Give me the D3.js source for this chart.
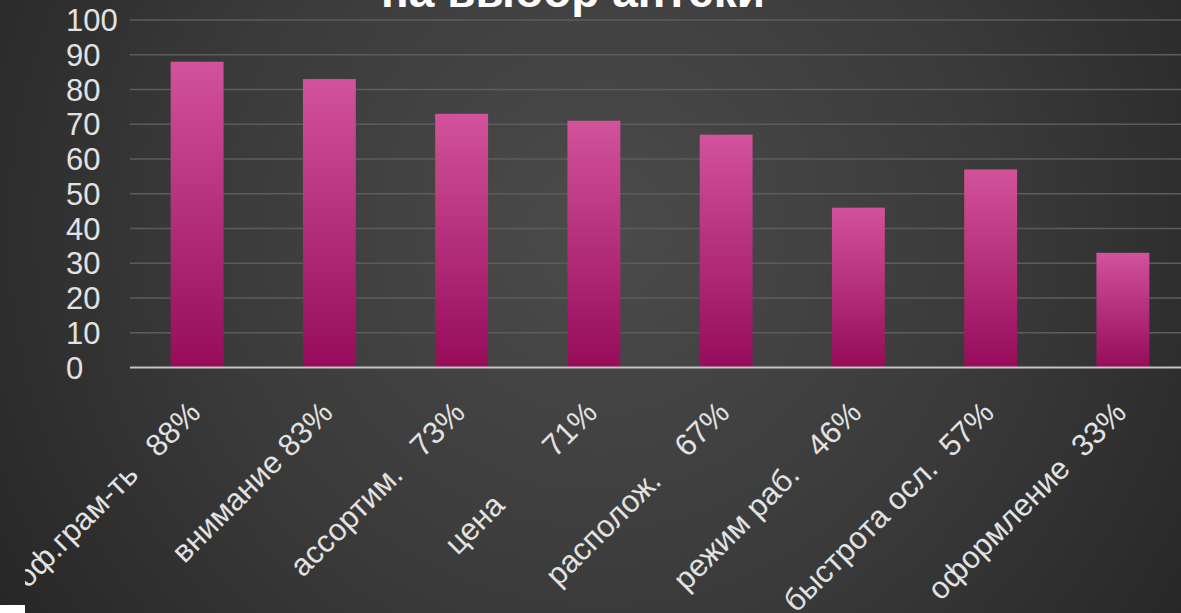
<!DOCTYPE html>
<html>
<head>
<meta charset="utf-8">
<script src="https://cdn.jsdelivr.net/npm/d3@7"></script>
<style>
  html, body { margin: 0; padding: 0; background: #2b2b2b; }
  svg { display: block; }
</style>
</head>
<body>
<svg id="chart" width="1181" height="613"></svg>
<script>
// Factors in choosing a pharmacy, share of respondents (%)
const categories = [
  "проф.грам-ть   88%",
  "внимание 83%",
  "ассортим.   73%",
  "цена        71%",
  "располож.    67%",
  "режим раб.   46%",
  "быстрота осл.  57%",
  "оформление  33%"
];
const values = [88, 83, 73, 71, 67, 46, 57, 33];
const yTicks = [0, 10, 20, 30, 40, 50, 60, 70, 80, 90, 100];
const titleText = "на выбор аптеки";

const W = 1181, H = 613;
const svg = d3.select("#chart");
const defs = svg.append("defs");

// background: soft radial light over dark grey
const bg = defs.append("radialGradient")
  .attr("id", "bgGrad")
  .attr("gradientUnits", "userSpaceOnUse")
  .attr("cx", 600).attr("cy", 230).attr("r", 720);
bg.append("stop").attr("offset", "0").attr("stop-color", "#4b4b4b");
bg.append("stop").attr("offset", "0.55").attr("stop-color", "#3a3a3a");
bg.append("stop").attr("offset", "1").attr("stop-color", "#262626");

const barGrad = defs.append("linearGradient")
  .attr("id", "barGrad")
  .attr("x1", 0).attr("y1", 0).attr("x2", 0).attr("y2", 1);
barGrad.append("stop").attr("offset", "0").attr("stop-color", "#d2529b");
barGrad.append("stop").attr("offset", "1").attr("stop-color", "#960c5a");

defs.append("clipPath").attr("id", "labelClip")
  .append("rect").attr("x", 25).attr("y", 0).attr("width", W).attr("height", H);

svg.append("rect").attr("width", W).attr("height", H).attr("fill", "url(#bgGrad)");

const x = d3.scaleBand()
  .domain(categories)
  .range([131, 1189])
  .paddingInner(0.6)
  .paddingOuter(0.3);

const y = d3.scaleLinear().domain([0, 100]).range([367.5, 20]);

// horizontal gridlines
svg.append("g")
  .selectAll("line")
  .data(yTicks.filter(d => d > 0))
  .join("line")
  .attr("x1", 130).attr("x2", W)
  .attr("y1", d => y(d)).attr("y2", d => y(d))
  .attr("stroke", "#5c5c5c").attr("stroke-width", 1.5);

// y tick labels (left aligned)
svg.append("g")
  .selectAll("text")
  .data(yTicks)
  .join("text")
  .attr("x", 66)
  .attr("y", d => y(d))
  .attr("dy", "0.36em")
  .attr("fill", "#e2e2e2")
  .style("font-family", "'Liberation Sans', Arial, sans-serif")
  .style("font-size", "31px")
  .text(d => d);

// bars
svg.append("g")
  .selectAll("rect")
  .data(values)
  .join("rect")
  .attr("x", (d, i) => x(categories[i]))
  .attr("width", x.bandwidth())
  .attr("y", d => y(d))
  .attr("height", d => y(0) - y(d))
  .attr("fill", "url(#barGrad)");

// category axis line
svg.append("line")
  .attr("x1", 130).attr("x2", W)
  .attr("y1", y(0)).attr("y2", y(0))
  .attr("stroke", "#c4c4c4").attr("stroke-width", 2);

// rotated category labels
svg.append("g")
  .attr("clip-path", "url(#labelClip)")
  .selectAll("text")
  .data(categories)
  .join("text")
  .attr("xml:space", "preserve")
  .style("white-space", "pre")
  .attr("text-anchor", "end")
  .attr("transform", d => `translate(${x(d) + x.bandwidth() / 2 + 5},${y(0) + 47}) rotate(-45)`)
  .attr("fill", "#e2e2e2")
  .style("font-family", "'Liberation Sans', Arial, sans-serif")
  .style("font-size", "31px")
  .text(d => d);

// chart title (top part runs off the canvas)
svg.append("text")
  .attr("x", 573).attr("y", 7)
  .attr("text-anchor", "middle")
  .attr("fill", "#ffffff")
  .style("font-family", "'Liberation Sans', Arial, sans-serif")
  .style("font-weight", "bold")
  .style("font-size", "46px")
  .text(titleText);

// white corner patch at bottom left
svg.append("rect").attr("x", 0).attr("y", 605).attr("width", 25).attr("height", 8).attr("fill", "#ffffff");
</script>
</body>
</html>
